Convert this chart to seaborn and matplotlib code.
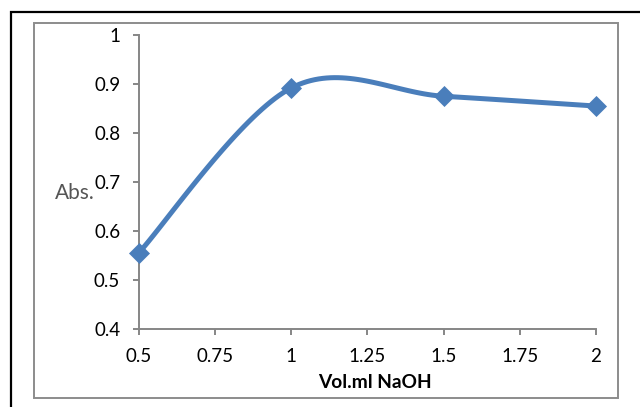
import numpy as np
import pandas as pd
import matplotlib
matplotlib.use("Agg")
import matplotlib.pyplot as plt
from matplotlib.patches import Rectangle
import seaborn as sns

vol_naoh = [0.5, 1.0, 1.5, 2.0]
absorbance = [0.556, 0.892, 0.875, 0.855]
x_ticks = [0.5, 0.75, 1, 1.25, 1.5, 1.75, 2]
x_tick_labels = ["0.5", "0.75", "1", "1.25", "1.5", "1.75", "2"]
y_ticks = [0.4, 0.5, 0.6, 0.7, 0.8, 0.9, 1.0]
y_tick_labels = ["0.4", "0.5", "0.6", "0.7", "0.8", "0.9", "1"]

sns.set_theme(style="white")
plt.rcParams["font.family"] = ["Lato", "DejaVu Sans"]

W, H = 640, 407
fig = plt.figure(figsize=(W / 100, H / 100), dpi=100)
ax = fig.add_axes([139 / W, 1 - 329 / H, (596 - 139) / W, (329 - 35) / H])


def smooth(xs, ys, n=40):
    # Excel-style smoothed line: Catmull-Rom cubic Bezier between points
    P = np.column_stack([xs, ys]).astype(float)
    out = []
    for i in range(len(P) - 1):
        p0 = P[i - 1] if i > 0 else P[i]
        p1 = P[i]
        p2 = P[i + 1]
        p3 = P[i + 2] if i + 2 < len(P) else P[i + 1]
        c1 = p1 + (p2 - p0) / 6
        c2 = p2 - (p3 - p1) / 6
        t = np.linspace(0, 1, n)[:, None]
        seg = ((1 - t) ** 3) * p1 + 3 * ((1 - t) ** 2) * t * c1 + 3 * (1 - t) * t ** 2 * c2 + t ** 3 * p2
        out.append(seg if i == 0 else seg[1:])
    return np.vstack(out)

curve = smooth(vol_naoh, absorbance)
curve_df = pd.DataFrame({"x": curve[:, 0], "y": curve[:, 1]})
pts_df = pd.DataFrame({"x": vol_naoh, "y": absorbance})

blue = "#4A7EBB"
sns.lineplot(data=curve_df, x="x", y="y", sort=False, ax=ax, color=blue,
             linewidth=3.6, zorder=2)
sns.scatterplot(data=pts_df, x="x", y="y", ax=ax, marker="D", s=115,
                color=blue, edgecolor=blue, linewidth=0, zorder=3)

ax.set_xlim(0.5, 2)
ax.set_ylim(0.4, 1.0)
ax.set_xticks(x_ticks)
ax.set_xticklabels(x_tick_labels)
ax.set_yticks(y_ticks)
ax.set_yticklabels(y_tick_labels)
ax.set_xlabel("")
ax.set_ylabel("")
for s in ["top", "right"]:
    ax.spines[s].set_visible(False)
for s in ["left", "bottom"]:
    ax.spines[s].set_color("#868686")
    ax.spines[s].set_linewidth(1.4)
ax.tick_params(axis="both", direction="out", length=4.5, width=1.4,
               color="#868686", labelsize=13.5, labelcolor="black", pad=9)
ax.tick_params(axis="x", bottom=True)
ax.tick_params(axis="y", left=True)
for lab in ax.get_xticklabels() + ax.get_yticklabels():
    lab.set_clip_on(False)
ax.set_clip_on(False)
for c in ax.collections + ax.lines:
    c.set_clip_on(False)

fig.text(375 / W, 1 - 383 / H, "Vol.ml NaOH", ha="center", va="center",
         fontsize=13.8, fontweight="bold", color="black")
fig.text(55 / W, 1 - 193 / H, "Abs.", ha="left", va="center",
         fontsize=15, color="#555555")

# chart area frame (gray) and outer black frame
fig.add_artist(Rectangle((34 / W, 1 - 398 / H), (618 - 34) / W, (398 - 22.5) / H,
                         transform=fig.transFigure, fill=False,
                         edgecolor="#8c8c8c", linewidth=1.4))
fig.add_artist(Rectangle((10.5 / W, -0.05), 1.1, 1 - 11.5 / H + 0.05,
                         transform=fig.transFigure, fill=False,
                         edgecolor="black", linewidth=1.6))

fig.savefig("out.png", dpi=100)
